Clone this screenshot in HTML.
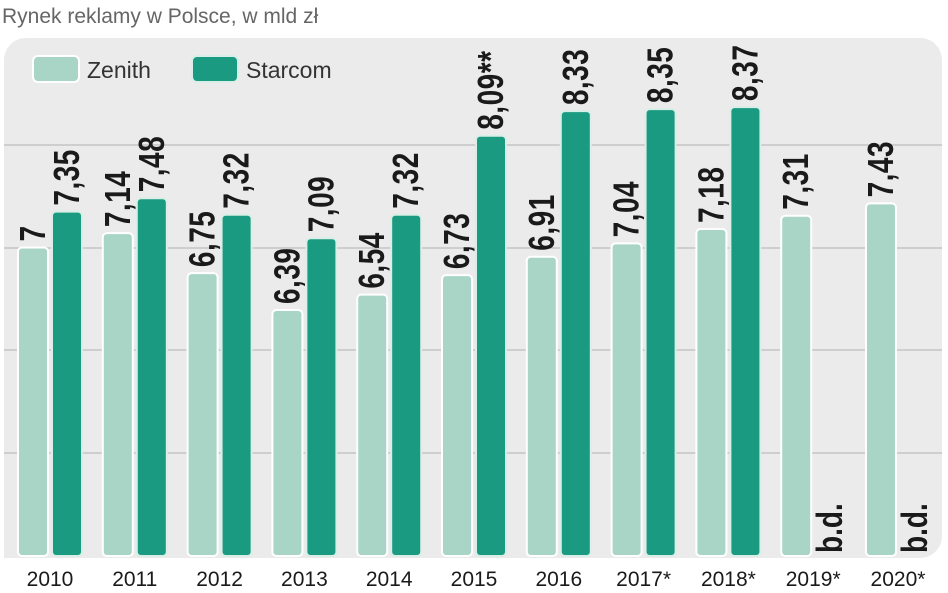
<!DOCTYPE html>
<html><head><meta charset="utf-8"><style>
html,body{margin:0;padding:0;background:#fff;width:948px;height:593px;overflow:hidden}
svg{display:block}
</style></head><body>
<svg width="948" height="593" xmlns="http://www.w3.org/2000/svg" font-family="Liberation Sans, sans-serif">
<text x="2" y="23" font-size="21" fill="#666">Rynek reklamy w Polsce, w mld zł</text>
<rect x="4" y="38" width="938" height="520" rx="22" fill="#ebebeb"/>
<rect x="4" y="530" width="30" height="28" fill="#ebebeb"/>
<g stroke="#c4c4c4" stroke-width="1.5">
<line x1="4" y1="145" x2="942" y2="145"/><line x1="4" y1="248" x2="942" y2="248"/>
<line x1="4" y1="350" x2="942" y2="350"/><line x1="4" y1="453" x2="942" y2="453"/>
</g>
<rect x="33" y="56" width="46" height="26" rx="5" fill="#a8d5c5" stroke="#fff" stroke-width="2"/>
<text x="87" y="78" font-size="23" fill="#333">Zenith</text>
<rect x="192" y="56" width="46" height="26" rx="5" fill="#1a9a80" stroke="#d8eee6" stroke-width="2"/>
<text x="246" y="78" font-size="23" fill="#333">Starcom</text>
<g id="bars"></g>
<g id="labels" font-weight="bold" font-size="28" fill="#1a1a1a"></g>
<g id="years" font-size="21" fill="#1a1a1a" text-anchor="middle"></g>
</svg>
<script>
var z=[7,7.14,6.75,6.39,6.54,6.73,6.91,7.04,7.18,7.31,7.43];
var s=[7.35,7.48,7.32,7.09,7.32,8.09,8.33,8.35,8.37,null,null];
var sl=["7,35","7,48","7,32","7,09","7,32","8,09**","8,33","8,35","8,37"];
var yr=["2010","2011","2012","2013","2014","2015","2016","2017*","2018*","2019*","2020*"];
function Y(v){return 555-(v-4)*102.5;}
var b="",l="",t="";
for(var i=0;i<11;i++){
 var x=18+84.8*i;
 var yz=Y(z[i]);
 b+='<rect x="'+x+'" y="'+yz+'" width="30" height="'+(556-yz)+'" rx="4" fill="#a8d5c5" stroke="#fff" stroke-width="2"/>';
 l+='<text transform="translate('+(x+27)+','+(yz-6)+') rotate(-90) scale(1,1.3)" letter-spacing="0.5">'+String(z[i]).replace(".",",")+'</text>';
 var xs=x+34;
 if(s[i]!=null){
  var ys=Y(s[i]);
  b+='<rect x="'+xs+'" y="'+ys+'" width="30" height="'+(556-ys)+'" rx="4" fill="#1a9a80" stroke="#d8eee6" stroke-width="2"/>';
  l+='<text transform="translate('+(xs+27)+','+(ys-6)+') rotate(-90) scale(1,1.3)" letter-spacing="0.5">'+sl[i]+'</text>';
 } else {
  l+='<text transform="translate('+(xs+27)+',553) rotate(-90) scale(1,1.3)">b.d.</text>';
 }
 t+='<text x="'+(x+32)+'" y="586">'+yr[i]+'</text>';
}
document.getElementById("bars").innerHTML=b;
document.getElementById("labels").innerHTML=l;
document.getElementById("years").innerHTML=t;
</script>
</body></html>
